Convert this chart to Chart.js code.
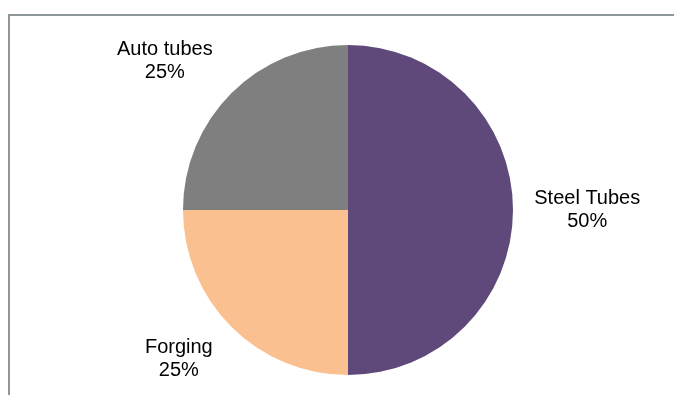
<!DOCTYPE html>
<html>
<head>
<meta charset="utf-8">
<script src="https://cdn.jsdelivr.net/npm/chart.js@4.4.0/dist/chart.umd.min.js"></script>
<style>
  html, body { margin: 0; padding: 0; background: #fff; }
  #wrap { position: relative; width: 674px; height: 395px; overflow: hidden; }
  #frame {
    position: absolute; left: 8px; top: 14px; width: 680px; height: 400px;
    border-top: 2px solid #8d979b; border-left: 2px solid #8d979b;
  }
  #chart { position: absolute; left: 0; top: 0; }
</style>
</head>
<body>
<div id="wrap">
  <div id="frame"></div>
  <canvas id="chart" width="674" height="395"></canvas>
</div>
<script>
// Datos del gráfico
const segments = ["Steel Tubes", "Forging", "Auto tubes"];
const shares = [50, 25, 25];
const sliceColors = ["#5f497a", "#fac090", "#7f7f7f"];

// etiquetas fuera del pastel, con el nombre y el porcentaje
const outsideLabels = {
  id: "outsideLabels",
  afterDatasetsDraw(chart) {
    const ctx = chart.ctx;
    const meta = chart.getDatasetMeta(0);
    const total = shares.reduce((a, b) => a + b, 0);
    ctx.save();
    ctx.fillStyle = "#000";
    ctx.font = '20px "Liberation Sans", Arial, sans-serif';
    ctx.textAlign = "center";
    ctx.textBaseline = "middle";
    meta.data.forEach((arc, i) => {
      const p = arc.getProps(["x", "y", "startAngle", "endAngle", "outerRadius"], true);
      const mid = (p.startAngle + p.endAngle) / 2;
      let x = p.x + Math.cos(mid) * p.outerRadius * 1.45;
      let y = p.y + Math.sin(mid) * p.outerRadius * 1.28;
      if (Math.sin(mid) < -0.3) x -= 14; // ajuste como en excel
      const pct = Math.round(shares[i] / total * 100) + "%";
      ctx.fillText(segments[i], x, y - 11.5);
      ctx.fillText(pct, x, y + 11.5);
    });
    ctx.restore();
  }
};

const ctx = document.getElementById("chart").getContext("2d");
const myChart = new Chart(ctx, {
  type: "pie",
  data: {
    labels: segments,
    datasets: [{
      data: shares,
      backgroundColor: sliceColors,
      borderWidth: 0,
    }],
  },
  options: {
    responsive: false,
    devicePixelRatio: 1,
    animation: false,
    layout: { padding: { left: 183, right: 161, top: 45, bottom: 20 } },
    plugins: {
      legend: { display: false },
      tooltip: { enabled: false },
    },
  },
  plugins: [outsideLabels],
});
</script>
</body>
</html>
